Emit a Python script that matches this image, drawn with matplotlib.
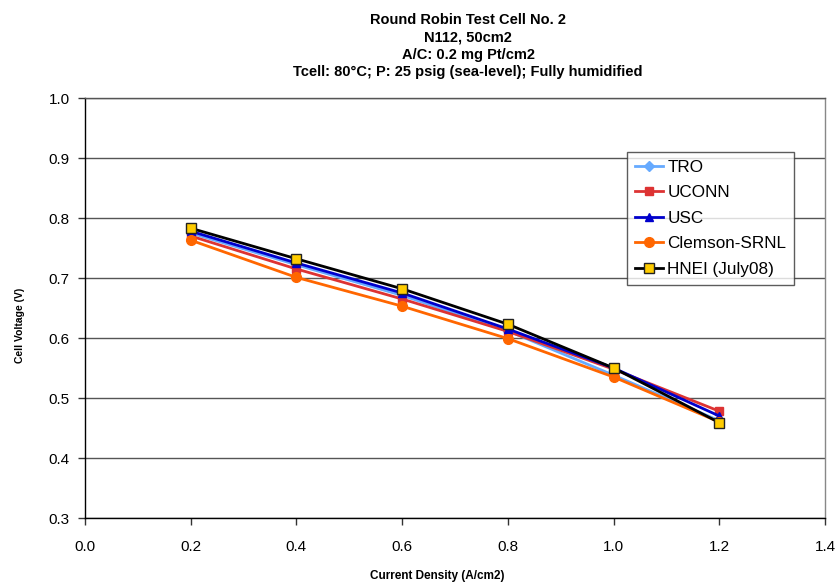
import matplotlib
matplotlib.use("Agg")
import matplotlib.pyplot as plt

plt.rcParams['font.family'] = ['Liberation Sans', 'DejaVu Sans']

current_density = [0.2, 0.4, 0.6, 0.8, 1.0, 1.2]

tro = [0.775, 0.722, 0.671, 0.612, 0.538, 0.462]
uconn = [0.770, 0.715, 0.665, 0.611, 0.548, 0.478]
usc = [0.778, 0.725, 0.675, 0.615, 0.550, 0.470]
clemson = [0.763, 0.701, 0.653, 0.599, 0.535, 0.460]
hnei = [0.783, 0.732, 0.682, 0.623, 0.550, 0.459]

series_names = ["TRO", "UCONN", "USC", "Clemson-SRNL", "HNEI (July08)"]

x_ticks = [0.0, 0.2, 0.4, 0.6, 0.8, 1.0, 1.2, 1.4]
y_ticks = [0.3, 0.4, 0.5, 0.6, 0.7, 0.8, 0.9, 1.0]

title_text = ("Round Robin Test Cell No. 2\nN112, 50cm2\nA/C: 0.2 mg Pt/cm2\n"
              "Tcell: 80°C; P: 25 psig (sea-level); Fully humidified")

fig = plt.figure(figsize=(8.38, 5.83), dpi=100)
ax = fig.add_axes([85 / 838, 1 - 518 / 583, 740 / 838, 420 / 583])

styles = [
    dict(color="#66aaff", marker="D", markersize=5, markerfacecolor="#66aaff", markeredgecolor="#66aaff"),
    dict(color="#dd3333", marker="s", markersize=6, markerfacecolor="#dd3333", markeredgecolor="#dd3333"),
    dict(color="#0000cc", marker="^", markersize=6, markerfacecolor="#0000cc", markeredgecolor="#0000cc"),
    dict(color="#ff6600", marker="o", markersize=7, markerfacecolor="#ff6600", markeredgecolor="#ff6600"),
    dict(color="#000000", marker="s", markersize=7, markerfacecolor="#ffcc00", markeredgecolor="#222222"),
]

for name, vals, st in zip(series_names, [tro, uconn, usc, clemson, hnei], styles):
    ax.plot(current_density, vals, label=name, linewidth=2, **st)

ax.set_xlim(0.0, 1.4)
ax.set_ylim(0.3, 1.0)
ax.set_xticks(x_ticks)
ax.set_yticks(y_ticks)
ax.set_xticklabels([f"{v:.1f}" for v in x_ticks], fontsize=11)
ax.set_yticklabels([f"{v:.1f}" for v in y_ticks], fontsize=11)
ax.tick_params(axis="both", direction="out", length=5, width=1, color="#333333")
ax.tick_params(axis="x", pad=11)
ax.tick_params(axis="y", pad=6)

ax.yaxis.grid(True, color="#555555", linewidth=1)
ax.set_axisbelow(True)

ax.spines["left"].set_color("#000000")
ax.spines["bottom"].set_color("#000000")
ax.spines["top"].set_color("#555555")
ax.spines["right"].set_color("#888888")
for s in ax.spines.values():
    s.set_linewidth(1)

ax.set_xlabel("Current Density (A/cm2)", fontsize=8.5, fontweight="bold", labelpad=11,
              x=(437.5 - 85) / 740)
ax.set_ylabel("Cell Voltage (V)", fontsize=7.5, fontweight="bold", labelpad=17,
              y=(518 - 325) / 420)

fig.text(468 / 838, 1 - 13 / 583, title_text, ha="center", va="top",
         fontsize=10.5, fontweight="bold", linespacing=1.3)

leg = ax.legend(loc="upper left", bbox_to_anchor=((627 - 85) / 740, (518 - 152) / 420),
                frameon=True, fancybox=False, fontsize=12.3, handlelength=1.65,
                handletextpad=0.25, borderpad=0.45, labelspacing=0.62, borderaxespad=0)
leg.get_frame().set_edgecolor("#333333")
leg.get_frame().set_linewidth(1)

fig.savefig("out.png", dpi=100)
